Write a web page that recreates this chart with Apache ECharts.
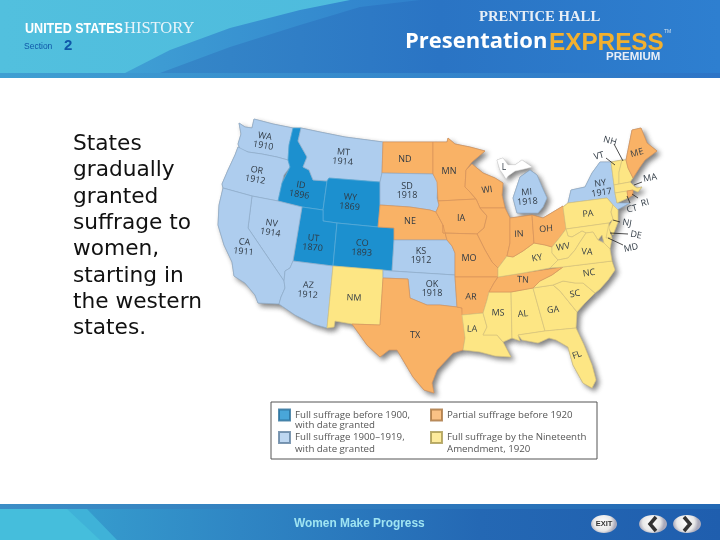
<!DOCTYPE html>
<html><head><meta charset="utf-8">
<style>html,body{margin:0;padding:0;background:#fff}#c{width:720px;height:540px}</style>
<script src="https://cdn.jsdelivr.net/npm/echarts@6/dist/echarts.min.js"></script>
</head><body><div id="c"></div>
<script>
// ---- data: which group each state falls in, with the date granted
const fullBefore1900 = {ID:1896, WY:1869, UT:1870, CO:1893};
const full1900to1919 = {WA:1910, OR:1912, MT:1914, NV:1914, CA:1911, AZ:1912, SD:1918, KS:1912, OK:1918, MI:1918, NY:1917};
const partialBefore1920 = ['ND','MN','NE','IA','WI','IL','IN','OH','MO','AR','TX','TN','ME','RI'];
const fullBy1920 = ['NM','LA','MS','AL','GA','SC','FL','NC','KY','WV','VA','MD','DE','PA','NJ','CT','MA','VT','NH'];
const seriesNames = [
 'Full suffrage before 1900,\nwith date granted',
 'Full suffrage 1900–1919,\nwith date granted',
 'Partial suffrage before 1920',
 'Full suffrage by the Nineteenth\nAmendment, 1920'];
const bodyText = ['States','gradually','granted','suffrage to','women,','starting in','the western','states.'];
const footerTitle = 'Women Make Progress';

// ---- base-map outlines and state-label anchors [x,y,rotation]
const outlines = {
WA:[[239,123],[245,127],[252,128],[254,119],[273,124],[293,128],[289,145],[288,160],[277,157],[262,154],[248,152],[240,149],[238,144],[241,134]],
OR:[[238,147],[248,152],[262,154],[277,157],[288,160],[290,167],[284,175],[282,183],[278,201],[252,196],[223,188],[222,184],[228,170],[235,155]],
ID:[[293,128],[301,128],[298,141],[307,157],[303,167],[309,170],[313,180],[327,181],[323,210],[302,207],[278,201],[282,183],[290,167],[288,160],[289,145]],
MT:[[301,128],[320,132],[345,137],[383,142],[382,173],[380,182],[329,178],[327,181],[313,180],[309,170],[303,167],[307,157],[298,141]],
WY:[[329,178],[380,182],[380,205],[378,227],[337,223],[323,221],[323,210],[327,181]],
UT:[[302,207],[323,210],[323,221],[337,223],[333,266],[293,261]],
CO:[[337,223],[378,227],[394,228],[394,240],[392,271],[333,266]],
NV:[[252,196],[278,201],[302,207],[293,261],[290,268],[285,271],[284,281],[248,228]],
CA:[[223,188],[252,196],[248,228],[284,281],[285,288],[281,297],[279,304],[258,303],[255,295],[245,283],[234,276],[232,262],[224,245],[218,225],[219,205]],
AZ:[[293,261],[333,266],[327,328],[313,324],[295,315],[279,304],[281,297],[285,288],[284,281],[285,271],[290,268]],
NM:[[333,266],[383,270],[383,278],[380,325],[352,324],[335,321],[334,327],[327,328]],
ND:[[383,142],[433,142],[433,174],[382,173]],
SD:[[382,173],[433,174],[438,182],[437,198],[439,205],[436,212],[430,210],[410,207],[380,205],[380,182]],
NE:[[380,205],[410,207],[430,210],[436,212],[443,225],[447,240],[394,240],[394,228],[378,227]],
KS:[[394,240],[447,240],[452,246],[455,253],[455,275],[392,271]],
OK:[[383,270],[392,271],[455,275],[455,277],[457,307],[440,305],[427,305],[410,298],[408,279],[383,278]],
TX:[[383,278],[408,279],[410,298],[427,305],[440,305],[457,307],[462,308],[465,338],[463,350],[453,353],[437,370],[432,383],[434,393],[424,390],[413,377],[397,350],[389,350],[380,357],[367,345],[352,324],[380,325]],
MN:[[433,142],[447,142],[448,138],[455,144],[470,147],[485,151],[472,162],[466,170],[465,187],[470,192],[476,199],[438,201],[437,182],[433,174]],
WI:[[466,170],[472,164],[483,173],[495,178],[503,183],[502,195],[505,208],[480,208],[476,199],[470,192],[465,187]],
IA:[[438,201],[476,199],[480,208],[487,216],[484,228],[477,234],[443,233],[443,225],[436,212],[439,205]],
IL:[[480,208],[505,208],[510,218],[510,243],[507,256],[498,268],[492,262],[485,250],[477,234],[484,228],[487,216]],
MO:[[443,233],[477,234],[485,250],[492,262],[498,268],[498,277],[455,277],[455,253],[452,246],[447,240],[443,225]],
AR:[[455,277],[498,277],[494,283],[489,292],[487,300],[483,313],[462,315],[462,308],[457,307]],
LA:[[462,315],[483,313],[487,327],[483,335],[497,335],[503,342],[511,357],[495,356],[480,352],[463,350],[465,338]],
MS:[[489,292],[511,292],[512,338],[503,342],[497,335],[483,335],[487,327],[483,313],[487,300]],
AL:[[511,292],[533,288],[545,331],[518,335],[520,341],[512,338]],
GA:[[533,288],[553,285],[560,291],[577,312],[576,328],[545,331]],
FL:[[518,335],[545,331],[576,328],[584,345],[592,365],[596,380],[592,388],[583,383],[573,365],[568,347],[556,340],[549,338],[538,343],[522,340]],
SC:[[553,285],[563,281],[575,283],[583,283],[595,293],[585,303],[577,312],[560,291]],
NC:[[563,267],[612,261],[615,270],[608,280],[600,289],[595,293],[583,283],[575,283],[563,281],[553,285],[533,288],[540,281],[552,275]],
TN:[[498,277],[523,273],[563,267],[552,275],[540,281],[533,288],[511,292],[489,292],[494,283]],
KY:[[498,268],[507,256],[513,257],[523,251],[534,243],[545,245],[552,247],[552,253],[558,260],[550,268],[523,273],[498,277]],
IN:[[510,218],[532,215],[534,243],[523,251],[513,257],[507,256],[510,243]],
OH:[[532,215],[543,218],[563,206],[566,229],[560,237],[552,247],[545,245],[534,243]],
MI:[[517,213],[513,198],[520,177],[530,170],[537,175],[542,187],[547,198],[543,207],[538,213]],
UP:[[497,160],[503,158],[508,165],[515,165],[522,160],[532,167],[524,169],[515,171],[508,176],[506,179],[503,174],[500,170]],
NY:[[568,203],[571,190],[585,187],[592,173],[600,162],[611,162],[614,185],[615,193],[617,203],[630,203],[617,210],[613,205],[607,198]],
PA:[[563,207],[568,203],[607,198],[613,205],[611,212],[613,219],[609,223],[566,229]],
VT:[[611,162],[622,160],[619,172],[619,184],[614,185]],
NH:[[622,160],[626,160],[628,168],[633,178],[630,182],[619,184],[619,172]],
ME:[[626,160],[628,150],[632,130],[641,128],[647,143],[657,151],[645,160],[640,167],[633,178],[628,168]],
MA:[[614,185],[619,184],[630,182],[634,186],[637,188],[642,187],[638,192],[633,190],[627,191],[615,193]],
CT:[[615,193],[627,191],[628,198],[617,203]],
RI:[[627,191],[633,190],[633,195],[628,198]],
NJ:[[613,205],[618,210],[618,222],[613,235],[608,228],[613,219],[611,212]],
DE:[[609,223],[609,228],[612,238],[606,238],[606,227]],
MD:[[566,229],[609,223],[606,238],[612,238],[610,249],[604,243],[602,235],[598,240],[593,232],[586,233],[582,231],[572,237],[568,236]],
WV:[[566,229],[568,236],[572,237],[582,231],[586,233],[580,242],[575,250],[568,258],[558,260],[552,253],[552,247],[560,237]],
VA:[[586,233],[593,232],[598,240],[604,243],[610,249],[612,261],[563,267],[550,268],[558,260],[568,258],[575,250],[580,242]]
};
const anchors = {
WA:[264,141,-10],OR:[256,175,-10],ID:[300,190,-10],MT:[343,157,-5],WY:[350,202,-5],UT:[313,243,-5],CO:[362,248,-3],NV:[271,228,-8],CA:[244,247,-6],AZ:[308,290,-4],
NM:[354,298,-2],ND:[405,159,0],SD:[407,191,0],NE:[410,221,0],KS:[421,256,0],OK:[432,289,0],TX:[415,335,0],MN:[449,171,0],IA:[461,218,0],MO:[469,258,0],
WI:[487,190,8],MI:[527,197,4],IN:[519,234,4],OH:[546,229,5],KY:[537,258,10],WV:[563,247,10],VA:[587,252,-3],PA:[588,214,5],NY:[601,188,8],TN:[523,280,-2],
NC:[589,273,8],SC:[575,294,10],GA:[553,310,5],AL:[523,314,5],MS:[498,313,-2],LA:[472,329,-2],AR:[471,297,-2],FL:[577,355,20],ME:[637,153,15],NH:[610,141,-15],
VT:[599,156,15],MA:[650,178,10],RI:[645,203,15],CT:[632,209,15],NJ:[627,223,-10],DE:[636,235,-10],MD:[631,248,12]
};
const leaderLines = [
 [[614,144],[623,161]],[[606,158],[615,165]],[[642,182],[634,185]],[[638,198],[632,194]],
 [[630,203],[627,196]],[[620,222],[613,220]],[[628,234],[610,233]],[[623,245],[608,238]]
];
const flip = p => [p[0], -p[1]];

const fills   = ['#1c90cf','#aecdee','#f9b266','#fde684'];
const strokes = ['#5aaedb','#8faecb','#d9935a','#d8c47c'];

const geoJson = {type:'FeatureCollection', features:Object.keys(outlines).map(k=>{
  const ring = outlines[k].map(flip); ring.push(ring[0]);
  const a = anchors[k];
  const props = {name:k};
  if (a) props.cp = [a[0],-a[1]];
  return {type:'Feature', properties:props, geometry:{type:'Polygon', coordinates:[ring]}};
})};
echarts.registerMap('us', geoJson);

function makeItem(name, group, year){
  const a = anchors[name];
  const item = {name, value:group,
    itemStyle:{areaColor:fills[group], borderColor:strokes[group], borderWidth:0.7}};
  item.label = a ? {show:true, rotate:a[2], formatter: year? name+'\n'+year : name} : {show:false};
  return item;
}
const mapData = [];
Object.keys(fullBefore1900).forEach(s=>mapData.push(makeItem(s,0,fullBefore1900[s])));
Object.keys(full1900to1919).forEach(s=>mapData.push(makeItem(s,1,full1900to1919[s])));
partialBefore1920.forEach(s=>mapData.push(makeItem(s,2)));
fullBy1920.forEach(s=>mapData.push(makeItem(s,3)));
mapData.push({name:'UP',value:-1,itemStyle:{areaColor:'#fff',borderColor:'#e8e8e8',borderWidth:0.5},label:{show:false}});

const box = {left:0, top:0, width:720, height:540, aspectScale:1, boundingCoords:[[0,0],[720,-540]], roam:false};
const legendFont = {fontFamily:'"Open Sans"', fontSize:9.7, color:'#555'};

function legendOf(names, left){
  return {data:names, left, top:408.5, orient:'vertical', itemWidth:11, itemHeight:11, itemGap:9.5, padding:0, z:10,
    selectedMode:false, icon:'rect', textStyle:Object.assign({height:12,lineHeight:12},legendFont),
    formatter:n=>n.split('\n')[0]};
}
const chart = echarts.init(document.getElementById('c'),null,{renderer:'canvas'});
const LG = (stops)=>new echarts.graphic.LinearGradient(0,0,1,0,stops.map((c,i)=>({offset:i/(stops.length-1),color:c})));
const secondLine = (n,x,y)=>({type:'text',x,y,z:11,style:{text:n.split('\n')[1],fill:'#555',font:'9.7px "Open Sans"',textVerticalAlign:'middle'}});
const txt = (text,x,y,font,fill,extra,el)=>Object.assign({type:'text',x,y,z:5,style:Object.assign({text,font,fill,textVerticalAlign:'middle'},extra||{})},el||{});
const btn = (cx,w)=>({type:'ellipse',z:5,shape:{cx,cy:524,rx:w,ry:9},style:{fill:new echarts.graphic.RadialGradient(.45,.4,.7,[{offset:0,color:'#fff'},{offset:.7,color:'#e8e8e8'},{offset:1,color:'#aab'}])}});
const shadowTxt = {shadowColor:'rgba(0,30,90,.7)',shadowBlur:2,shadowOffsetX:1,shadowOffsetY:1};

chart.setOption({
  animation:false,
  backgroundColor:'#fff',
  geo:Object.assign({map:'us', z:0, silent:true, label:{show:false},
    itemStyle:{areaColor:'#9a9a9a',borderColor:'#9a9a9a',borderWidth:0.5,shadowColor:'rgba(60,60,60,.65)',shadowBlur:5,shadowOffsetX:3,shadowOffsetY:3},
    emphasis:{disabled:true}},box),
  legend:[legendOf([seriesNames[0],seriesNames[1]],278),legendOf([seriesNames[2],seriesNames[3]],430)],
  series:[
    Object.assign({type:'map', map:'us', z:2, silent:true, data:mapData, showLegendSymbol:false,
      label:{show:true, fontFamily:'"Open Sans"', fontSize:9, lineHeight:9.5, color:'#303a44'},
      emphasis:{disabled:true}},box),
    {type:'lines', coordinateSystem:'geo', z:3, silent:true, polyline:false,
     lineStyle:{color:'#222',width:0.8,opacity:1,curveness:0},
     data:leaderLines.map(l=>({coords:l.map(flip)}))}
  ].concat(seriesNames.map((n,i)=>({type:'scatter',name:n,coordinateSystem:'geo',data:[],symbol:'rect',
     itemStyle:{color:fills[i],borderColor:['#2b6f9a','#5f7f9f','#a8743f','#a89850'][i],borderWidth:0.8}}))),
  graphic:{elements:[
    {type:'rect',z:1,shape:{x:0,y:0,width:720,height:78},style:{fill:LG(['#52c0de','#4ab6dc'])}},
    {type:'polygon',z:1,shape:{points:[[125,73],[170,50],[230,28],[300,10],[350,0],[720,0],[720,73]]},style:{fill:LG(['#3f9fd4','#2f80cc','#2e7ccc'])}},
    {type:'polygon',z:1,shape:{points:[[160,73],[230,47],[300,25],[360,7],[420,0],[720,0],[720,73]]},style:{fill:LG(['#3688c8','#2a74c4','#2e7fd0'])}},
    {type:'rect',z:2,shape:{x:0,y:73,width:720,height:5},style:{fill:LG(['#3f9fd2','#2d74c6'])}},
    txt('UNITED STATES',25,29,'bold 15.5px "Liberation Sans"','#fff',shadowTxt,{scaleX:.81}),
    txt('HISTORY',124,29,'16.5px "Liberation Serif"','#e8f4fa'),
    txt('Section',24,47,'8.5px "Liberation Sans"','#0f57a8'),
    txt('2',64,46,'bold 15px "Liberation Sans"','#0f57a8'),
    txt('PRENTICE HALL',479,17,'bold 14.7px "Liberation Serif"','#e6eef6'),
    txt('Presentation',405,42,'bold 22px "Open Sans"','#fff',shadowTxt),
    txt('EXPRESS',549,43,'900 24.3px "Liberation Sans"','#f2b02e',shadowTxt),
    txt('PREMIUM',606,57,'bold 11.5px "Liberation Sans"','#e8eef6'),
    txt('TM',664,32,'5px "Liberation Sans"','#cfe0f0'),
    {type:'rect',z:1,shape:{x:0,y:504,width:720,height:36},style:{fill:LG(['#39a7d2','#2f86c4','#2468b4','#1f5eae'])}},
    {type:'polygon',z:2,shape:{points:[[0,509],[87,509],[117,540],[0,540]]},style:{fill:'#3fb2d8'}},
    {type:'polygon',z:2,shape:{points:[[0,509],[67,509],[100,540],[0,540]]},style:{fill:'#45bedc'}},
    {type:'rect',z:3,shape:{x:0,y:504,width:720,height:5},style:{fill:LG(['#3c8ec6','#2268b4'])}},
    txt(footerTitle,294,524,'bold 11.9px "Liberation Sans"','#9fe4f2'),
    btn(604,13),btn(653,14),btn(687,14),
    {type:'text',z:6,x:604,y:524,style:{text:'EXIT',font:'bold 7.5px "Liberation Sans"',fill:'#333',textAlign:'center',textVerticalAlign:'middle'}},
    {type:'polyline',z:6,shape:{points:[[656,517],[650,524],[656,531]]},style:{stroke:'#333',lineWidth:3.5,fill:null}},
    {type:'polyline',z:6,shape:{points:[[684,517],[690,524],[684,531]]},style:{stroke:'#333',lineWidth:3.5,fill:null}},
    {type:'rect',z:4,shape:{x:271,y:402,width:326,height:57},style:{fill:'#fff',stroke:'#555',lineWidth:1}},
    secondLine(seriesNames[0],295,425),secondLine(seriesNames[1],295,449),secondLine(seriesNames[3],447,449),
    {type:'text',z:5,x:504,y:168,style:{text:'L',font:'8.5px "Open Sans"',fill:'#303a44',textAlign:'center',textVerticalAlign:'middle'}}
  ].concat(bodyText.map((t,i)=>({type:'text',z:5,x:73,y:144.5+i*26.3,style:{text:t,font:'21.7px "DejaVu Sans"',fill:'#111',textVerticalAlign:'middle'}})))}
});
</script></body></html>
